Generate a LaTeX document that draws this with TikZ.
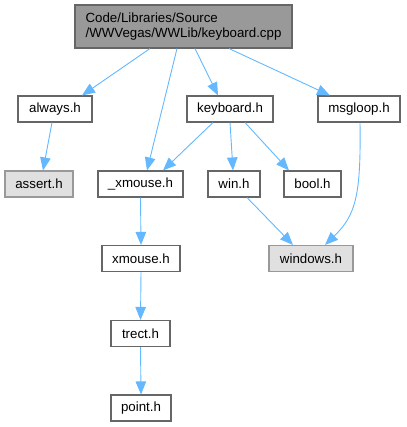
\documentclass[tikz,border=0pt]{standalone}
\usepackage{fontspec}
\setmainfont{Liberation Sans}
\usetikzlibrary{arrows.meta}
\definecolor{edgec}{HTML}{63B8FF}
\definecolor{bordc}{HTML}{666666}
\definecolor{rootfill}{HTML}{999999}
\definecolor{extfill}{HTML}{E0E0E0}
\definecolor{extbord}{HTML}{999999}
\tikzset{
  hbox/.style={draw=bordc, line width=1.1pt, fill=white, inner sep=0pt, minimum height=26pt, font=\fontsize{13.3}{15}\selectfont},
  extbox/.style={hbox, draw=extbord, fill=extfill},
  rootbox/.style={hbox, fill=rootfill, minimum height=43pt},
  dep/.style={draw=edgec, line width=0.9pt, -{Triangle[length=13pt,width=10.5pt]}}
}
\begin{document}
\begin{tikzpicture}[x=1pt,y=-1pt]
\useasboundingbox (0,0) rectangle (406,427);
\node[rootbox, minimum width=217pt, align=left] (root) at (183.5,26.5) {Code/Libraries/Source\\/WWVegas/WWLib/keyboard.cpp};
\node[hbox, minimum width=74pt] (always) at (55,109) {always.h};
\node[hbox, minimum width=86pt] (keyboard) at (230,109) {keyboard.h};
\node[hbox, minimum width=82pt] (msgloop) at (359,109) {msgloop.h};
\node[extbox, minimum width=68pt] (assert) at (39,184) {assert.h};
\node[hbox, minimum width=85pt] (xm) at (140.5,184) {\_xmouse.h};
\node[hbox, minimum width=52pt] (win) at (234,184) {win.h};
\node[hbox, minimum width=57pt] (bool) at (312.5,184) {bool.h};
\node[extbox, minimum width=84pt] (windows) at (311,258.5) {windows.h};
\node[hbox, minimum width=78pt] (xmouse) at (141,258.5) {xmouse.h};
\node[hbox, minimum width=59pt] (trect) at (140.5,333.5) {trect.h};
\node[hbox, minimum width=60pt] (point) at (141,408) {point.h};

\draw[dep] ([xshift=-33.5pt]root.south) -- ([xshift=27pt]always.north);
\draw[dep] ([xshift=-6.5pt]root.south) -- ([xshift=6.5pt]xm.north);
\draw[dep] ([xshift=11.5pt]root.south) -- ([xshift=-12pt]keyboard.north);
\draw[dep] ([xshift=45.5pt]root.south) -- ([xshift=-29pt]msgloop.north);
\draw[dep] ([xshift=-3pt]always.south) -- ([xshift=4pt]assert.north);
\draw[dep] ([xshift=-17pt]keyboard.south) -- ([xshift=22.5pt]xm.north);
\draw[dep] (keyboard.south) -- ([xshift=-1pt]win.north);
\draw[dep] ([xshift=15pt]keyboard.south) -- ([xshift=-23.5pt]bool.north);
\draw[dep] ([xshift=1pt]msgloop.south) .. controls (361,195) and (356,215) .. ([xshift=14pt]windows.north);
\draw[dep] ([xshift=13pt]win.south) -- ([xshift=-18pt]windows.north);
\draw[dep] (xm.south) -- (xmouse.north);
\draw[dep] (xmouse.south) -- (trect.north);
\draw[dep] (trect.south) -- (point.north);
\end{tikzpicture}
\end{document}
